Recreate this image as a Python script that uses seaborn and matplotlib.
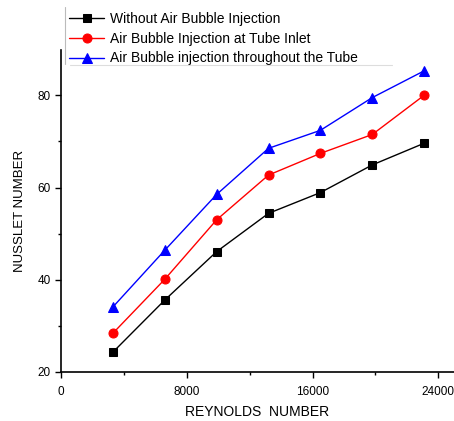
import numpy as np
import pandas as pd
import matplotlib
matplotlib.use("Agg")
import matplotlib.pyplot as plt
import seaborn as sns
from matplotlib.ticker import MultipleLocator
from matplotlib.lines import Line2D

reynolds = [3300, 6600, 9900, 13200, 16500, 19800, 23100]
nu_without = [24.3, 35.6, 46.1, 54.4, 58.9, 64.9, 69.6]
nu_inlet = [28.4, 40.1, 53.0, 62.7, 67.4, 71.5, 80.0]
nu_throughout = [34.1, 46.4, 58.5, 68.5, 72.4, 79.5, 85.3]

series = ["Without Air Bubble Injection",
          "Air Bubble Injection at Tube Inlet",
          "Air Bubble injection throughout the Tube"]
colors = ["black", "#ff0000", "#0000ff"]
markers = ["s", "o", "^"]
msizes = [5.5, 6.5, 7]

df = pd.DataFrame({
    "Re": reynolds * 3,
    "Nu": nu_without + nu_inlet + nu_throughout,
    "case": sum([[s] * len(reynolds) for s in series], []),
})

sns.set_style("ticks")
plt.rcParams["font.family"] = ["Liberation Sans", "DejaVu Sans"]
plt.rcParams["text.color"] = "black"
plt.rcParams["axes.labelcolor"] = "black"
plt.rcParams["xtick.color"] = "black"
plt.rcParams["ytick.color"] = "black"
plt.rcParams["axes.edgecolor"] = "black"

fig = plt.figure(figsize=(4.54, 4.21), dpi=100)
ax = fig.add_axes([0.1344, 0.1164, 0.8656, 0.7646])

for s, c, m, ms in zip(series, colors, markers, msizes):
    sub = df[df["case"] == s]
    sns.lineplot(data=sub, x="Re", y="Nu", ax=ax, color=c, marker=m,
                 markersize=ms, markeredgecolor=c, linewidth=1.0, label=s)

ax.set_xlim(0, 25000)
ax.set_ylim(20, 89.8)
ax.xaxis.set_major_locator(MultipleLocator(8000))
ax.xaxis.set_minor_locator(MultipleLocator(4000))
ax.yaxis.set_major_locator(MultipleLocator(20))
ax.yaxis.set_minor_locator(MultipleLocator(10))
ax.tick_params(which="major", length=4, width=1, labelsize=8.5, direction="out")
ax.tick_params(axis="x", which="major", pad=6)
ax.tick_params(which="minor", length=2.5, width=1, direction="out")
for side in ["top", "right"]:
    ax.spines[side].set_visible(False)
ax.spines["left"].set_linewidth(1.2)
ax.spines["bottom"].set_linewidth(1.2)

ax.set_xlabel("REYNOLDS  NUMBER", fontsize=10, labelpad=5)
ax.set_ylabel("NUSSLET NUMBER", fontsize=9.5, labelpad=8)

leg = ax.legend(loc="upper left", bbox_to_anchor=(0.0, 1.145), frameon=False,
                fontsize=10, handlelength=2.5, handletextpad=0.45,
                labelspacing=0.42, borderaxespad=0.2)

# thin legend border lines (left and bottom) as in the original
fig.add_artist(Line2D([65 / 454, 65 / 454], [1 - 7 / 421, 1 - 64 / 421],
                      color="#bbbbbb", linewidth=0.8))
fig.add_artist(Line2D([70 / 454, 392 / 454], [1 - 65 / 421, 1 - 65 / 421],
                      color="#dddddd", linewidth=0.8))

fig.savefig("out.png", dpi=100)
